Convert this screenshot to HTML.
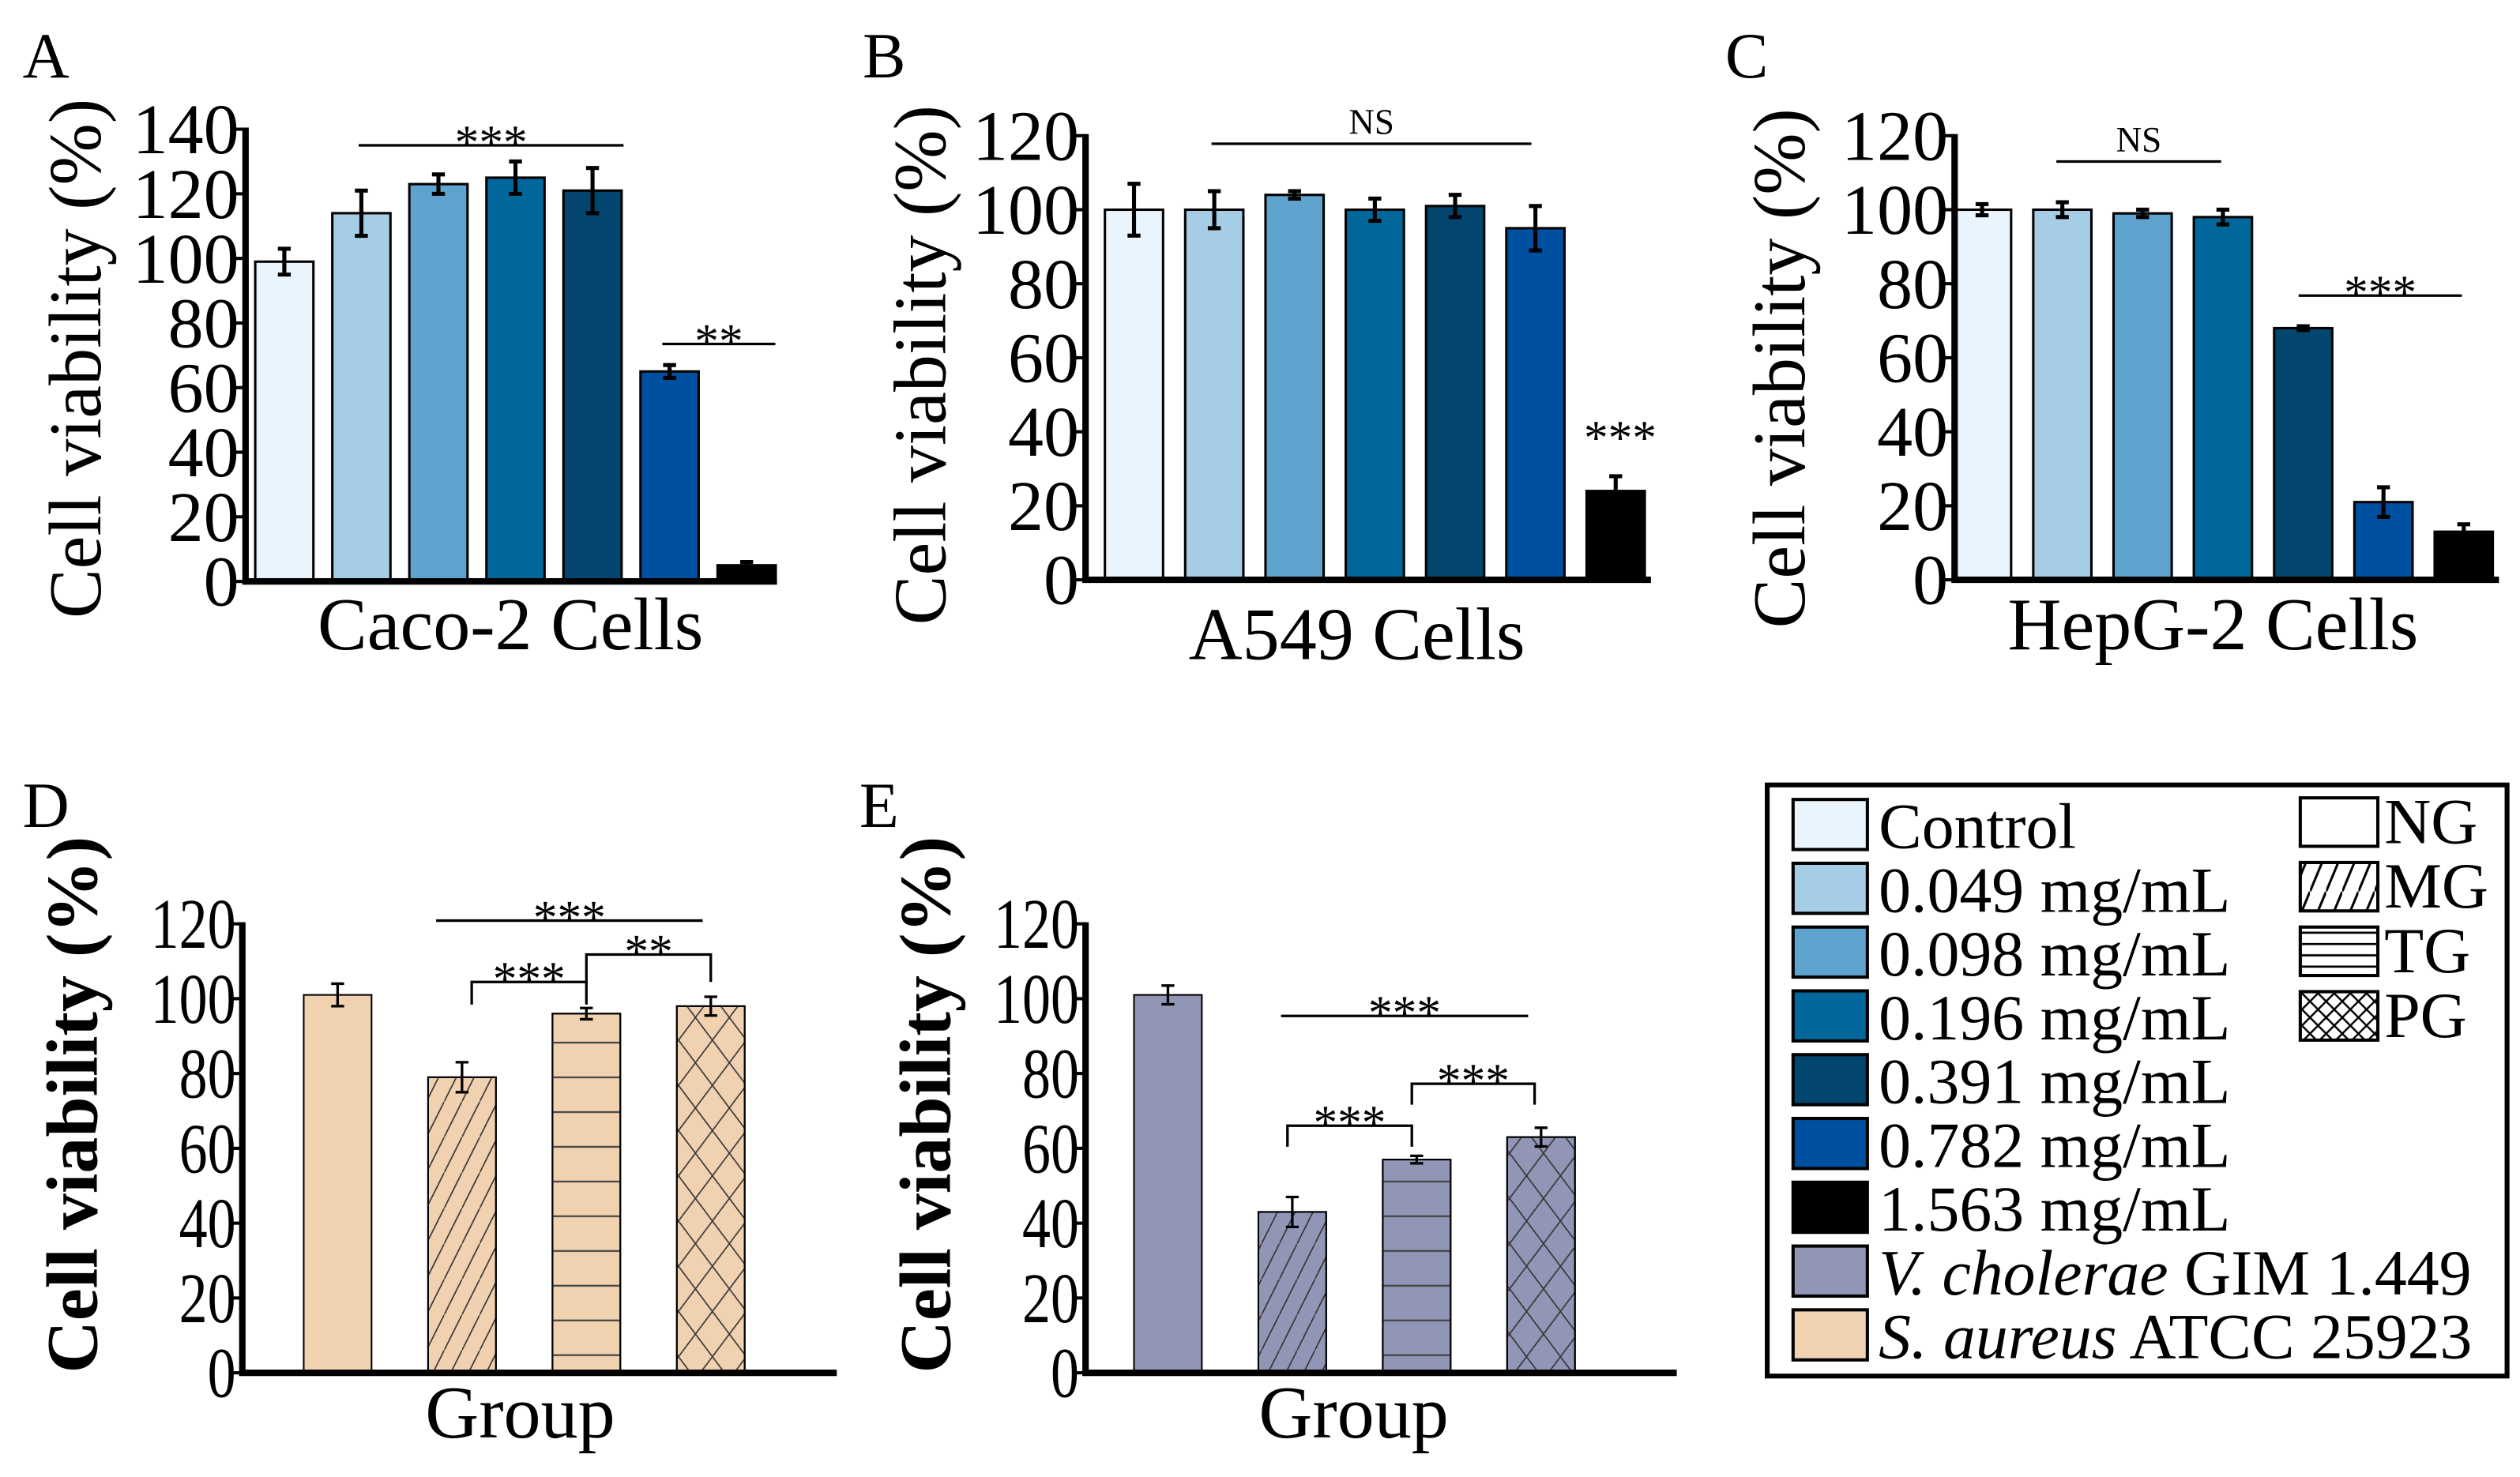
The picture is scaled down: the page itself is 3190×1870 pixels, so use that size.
<!DOCTYPE html>
<html><head><meta charset="utf-8">
<style>
html,body{margin:0;padding:0;background:#fff;width:3190px;height:1870px;overflow:hidden;}
svg{display:block;position:absolute;left:0;top:0;}
svg text{font-family:"Liberation Serif","DejaVu Serif",serif;}
</style></head>
<body>
<svg id="fig" width="3190" height="1870" viewBox="0 0 1560 914.5" xmlns="http://www.w3.org/2000/svg" font-family="Liberation Serif, DejaVu Serif, serif">
<defs>
<pattern id="pMG" patternUnits="userSpaceOnUse" width="11" height="22"><path d="M0,22 L11,0" stroke="#333" stroke-width="0.8"/></pattern>
<pattern id="pTG" patternUnits="userSpaceOnUse" width="10" height="21.5" y="0"><path d="M0,0.5 H10" stroke="#444" stroke-width="1.2"/></pattern>
<pattern id="pPG" patternUnits="userSpaceOnUse" width="21" height="28"><path d="M0,0 L21,28 M21,0 L0,28" stroke="#333" stroke-width="0.8"/></pattern>
<pattern id="lMG" patternUnits="userSpaceOnUse" width="10" height="24"><path d="M0,24 L10,0" stroke="#000" stroke-width="1.5"/></pattern>
<pattern id="lTG" patternUnits="userSpaceOnUse" width="10" height="7"><path d="M0,3.5 H10" stroke="#000" stroke-width="1.3"/></pattern>
<pattern id="lPG" patternUnits="userSpaceOnUse" width="10" height="10"><path d="M0,0 L10,10 M10,0 L0,10" stroke="#000" stroke-width="1.2"/></pattern>
</defs>
</svg>
<script>
// ---- data ----
const concLabels = ["Control","0.049 mg/mL","0.098 mg/mL","0.196 mg/mL","0.391 mg/mL","0.782 mg/mL","1.563 mg/mL"];
const concColors = ["#eaf4fd","#a6cde6","#5fa3cf","#02679a","#02456e","#0050a0","#000000"];
const caco2Values = [99,114,123,125,121,65,5];
const caco2Errors = [4,7,3,5,7,2,1];
const a549Values = [100,100,104,100,101,95,24];
const a549Errors = [7,5,1,3,3,6,4];
const hepg2Values = [100,100,99,98,68,21,13];
const hepg2Errors = [1.5,2,1,2,0.5,4,2];
const groupLabels = ["NG","MG","TG","PG"];
const saureusValues = [101,79,96,98];
const saureusErrors = [3,4,1.5,2.5];
const vcholValues = [101,43,57,63];
const vcholErrors = [2.5,4,1,2.5];
const ticksA = [0,20,40,60,80,100,120,140];
const ticksB = [0,20,40,60,80,100,120];

const NS="http://www.w3.org/2000/svg";
const svg=document.getElementById('fig');
const FF='Liberation Serif, DejaVu Serif, serif';
function mk(tag,attrs,parent){const e=document.createElementNS(NS,tag);for(const k in attrs)e.setAttribute(k,attrs[k]);(parent||svg).appendChild(e);return e;}
function txt(s,x,y,size,parent,anchor,extra){const t=mk('text',Object.assign({x:x,y:y,'font-size':size,'text-anchor':anchor||'middle','font-family':FF},extra||{}),parent);t.textContent=s;return t;}

function panel(o){
  const g=mk('g',{});
  
  
  const yMax=o.ticks[o.ticks.length-1];
  const ys=v=>o.base-(v/yMax)*(o.base-o.top);
  const letter=txt(o.letter,o.lx,o.ly,40,g,'start');
  
  
  o.values.forEach((v,i)=>{
    const cx=o.x0+i*o.step;
    const b=mk('rect',{x:cx-o.bw/2,y:ys(v),width:o.bw,height:o.base-ys(v),fill:o.colors[i],stroke:'#000','stroke-width':o.bsw},g);
    
    
    if(o.patterns&&o.patterns[i]){
      const p=mk('rect',{x:cx-o.bw/2,y:ys(v),width:o.bw,height:o.base-ys(v),fill:'url(#'+o.patterns[i]+')',stroke:'#000','stroke-width':o.bsw},g);
      
      
    }
    const e=o.errors[i];
    const eb=mk('path',{d:`M${cx},${ys(v+e)}V${ys(v-e)}M${cx-4},${ys(v+e)}H${cx+4}M${cx-4},${ys(v-e)}H${cx+4}`,stroke:'#000','stroke-width':o.esw,fill:'none'},g);
    
    
  });
  const ax=mk('path',{d:`M${o.ax},${o.top-1}V${o.base}H${o.xend}`,stroke:'#000','stroke-width':o.asw,fill:'none'},g);
  
  
  o.ticks.forEach(t=>{
    mk('path',{d:`M${o.ax-6},${ys(t)}H${o.ax}`,stroke:'#000','stroke-width':2},g);
    const tl=txt(String(t),o.ax-4,ys(t)+o.tfs*0.34,o.tfs,g,'end',o.condensed?{transform:`translate(${o.ax-4},0) scale(0.8,1) translate(${-(o.ax-4)},0)`}:{});
    
    
  });
  const yt=txt('Cell viability (%)',0,0,o.yfs,g,'middle',{transform:`translate(${o.ytx},${o.ytc}) rotate(-90)`,'font-weight':o.bold?'bold':'normal'});
  
  
  const xt=txt(o.xlabel,o.xlx,o.xly,46,g,'middle');
  
  
  (o.sigs||[]).forEach(s=>{
    const d=s.drop?`M${s.x1},${s.y+s.drop}V${s.y}H${s.x2}V${s.y+s.drop2}`:`M${s.x1},${s.y}H${s.x2}`;
    const l=mk('path',{d:d,stroke:'#000','stroke-width':1.6,fill:'none'},g);
    
    
    const st=txt(s.t,(s.x1+s.x2)/2,s.y-4+(s.t==='NS'?-2:12),s.t==='NS'?22:30,g);
    
    
  });
  return g;
}

panel({name:'panel-a-caco2',letter:'A',lx:14,ly:48,values:caco2Values,errors:caco2Errors,colors:concColors,cats:concLabels,
  x0:176,step:47.7,bw:36,ax:152,top:80,base:360,xend:481,ticks:ticksA,tfs:44,yfs:46,ytx:62,ytc:222,bsw:1.5,esw:2.5,asw:4,
  xlabel:'Caco-2 Cells',xlx:316,xly:402,
  sigs:[{x1:222,x2:386,y:90,t:'***'},{x1:410,x2:480,y:213,t:'**'}]});
panel({name:'panel-b-a549',letter:'B',lx:534,ly:48,values:a549Values,errors:a549Errors,colors:concColors,cats:concLabels,
  x0:702,step:49.7,bw:36,ax:672,top:84,base:359,xend:1022,ticks:ticksB,tfs:44,yfs:46,ytx:585,ytc:226,bsw:1.5,esw:2.5,asw:4,
  xlabel:'A549 Cells',xlx:840,xly:408,
  sigs:[{x1:750,x2:948,y:89,t:'NS'}]});
const sB=txt('***',1003,281,30);


panel({name:'panel-c-hepg2',letter:'C',lx:1068,ly:48,values:hepg2Values,errors:hepg2Errors,colors:concColors,cats:concLabels,
  x0:1227,step:49.7,bw:36,ax:1210,top:84,base:359,xend:1547,ticks:ticksB,tfs:44,yfs:46,ytx:1117,ytc:228,bsw:1.5,esw:2.5,asw:4,
  xlabel:'HepG-2 Cells',xlx:1370,xly:402,
  sigs:[{x1:1273,x2:1375,y:100,t:'NS'},{x1:1423,x2:1524,y:183,t:'***'}]});
panel({name:'panel-d-saureus',letter:'D',lx:14,ly:512,values:saureusValues,errors:saureusErrors,colors:Array(4).fill('#f0d2b0'),cats:groupLabels,patterns:[null,'pMG','pTG','pPG'],
  x0:209,step:77,bw:42,ax:150,top:572,base:850,xend:518,ticks:ticksB,tfs:44,yfs:45,ytx:60,ytc:684,bold:true,bsw:1,esw:1.6,asw:4,condensed:true,
  xlabel:'Group',xlx:322,xly:890,
  sigs:[{x1:270,x2:435,y:570,t:'***'},{x1:292,x2:363,y:608,drop:14,drop2:14,t:'***'},{x1:363,x2:440,y:591,drop:17,drop2:17,t:'**'}]});
panel({name:'panel-e-vcholerae',letter:'E',lx:532,ly:512,values:vcholValues,errors:vcholErrors,colors:Array(4).fill('#9296b6'),cats:groupLabels,patterns:[null,'pMG','pTG','pPG'],
  x0:723,step:77,bw:42,ax:672,top:572,base:850,xend:1038,ticks:ticksB,tfs:44,yfs:45,ytx:588,ytc:684,bold:true,bsw:1,esw:1.6,asw:4,condensed:true,
  xlabel:'Group',xlx:838,xly:890,
  sigs:[{x1:793,x2:946,y:629,t:'***'},{x1:797,x2:874,y:697,drop:13,drop2:13,t:'***'},{x1:874,x2:950,y:671,drop:13,drop2:13,t:'***'}]});

// legend
const lg=mk('g',{});


mk('rect',{x:1094,y:486,width:458,height:366,fill:'#fff',stroke:'#000','stroke-width':3},lg);
const legLabels=concLabels.concat(['V. cholerae|GIM 1.449','S. aureus|ATCC 25923']);
const legColors=concColors.concat(['#9296b6','#f0d2b0']);
legLabels.forEach((l,i)=>{
  const y=512+i*39.5;
  const e=mk('g',{},lg);
  
  
  mk('rect',{x:1110,y:y-17,width:46,height:31,fill:legColors[i],stroke:'#000','stroke-width':2},e);
  const t=mk('text',{x:1163,y:y+13,'font-size':40,'font-family':FF},e);
  if(l.includes('|')){const [a,b]=l.split('|');const s1=mk('tspan',{'font-style':'italic'},t);s1.textContent=a;const s2=mk('tspan',{},t);s2.textContent=' '+b;}
  else t.textContent=l;
});
['NG','MG','TG','PG'].forEach((l,i)=>{
  const y=510+i*40;
  const e=mk('g',{},lg);
  
  
  mk('rect',{x:1424,y:y-16,width:48,height:30,fill:i?'url(#l'+l+')':'#fff',stroke:'#000','stroke-width':2},e);
  txt(l,1476,y+12,40,e,'start');
});
</script>
</body></html>
